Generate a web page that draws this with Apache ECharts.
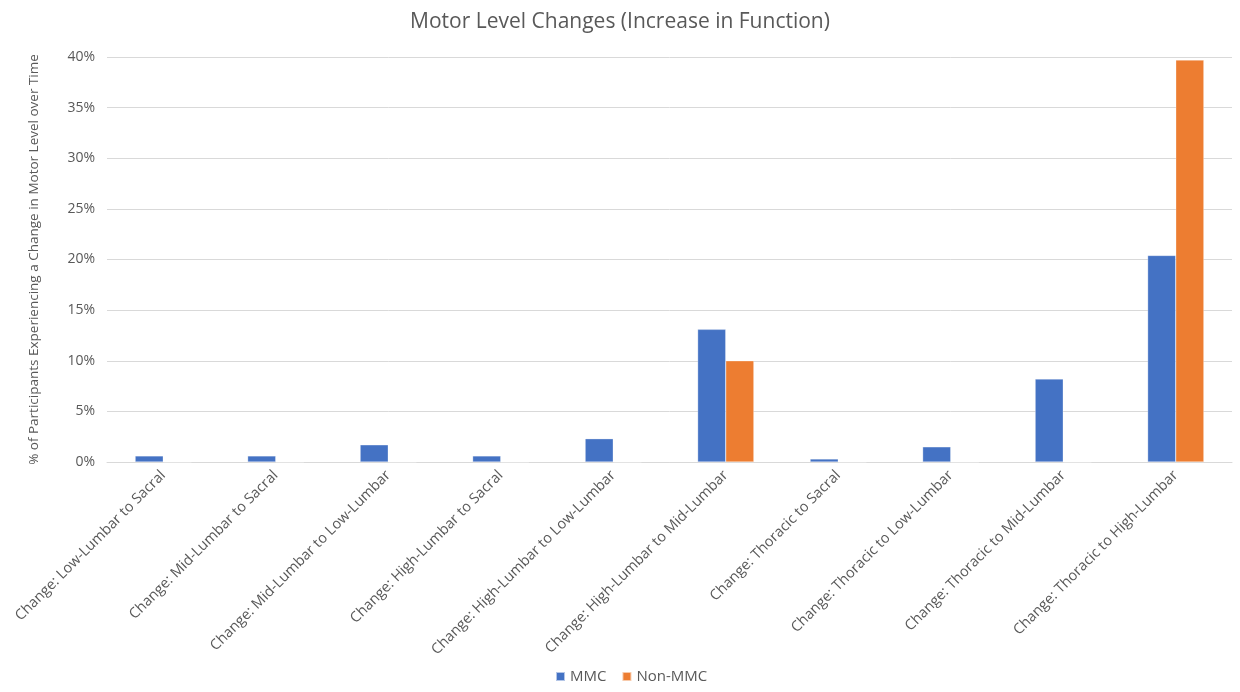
<!DOCTYPE html>
<html>
<head>
<meta charset="utf-8">
<script src="https://cdn.jsdelivr.net/npm/echarts@6/dist/echarts.min.js"></script>
<style>
  html, body { margin: 0; padding: 0; background: #ffffff; }
  #chart { width: 1240px; height: 692px; }
</style>
</head>
<body>
<div id="chart"></div>
<script>
// Motor level transitions (increase in function)
const categories = [
  'Change: Low-Lumbar to Sacral',
  'Change: Mid-Lumbar to Sacral',
  'Change: Mid-Lumbar to Low-Lumbar',
  'Change: High-Lumbar to Sacral',
  'Change: High-Lumbar to Low-Lumbar',
  'Change: High-Lumbar to Mid-Lumbar',
  'Change: Thoracic to Sacral',
  'Change: Thoracic to Low-Lumbar',
  'Change: Thoracic to Mid-Lumbar',
  'Change: Thoracic to High-Lumbar'
];
// percent of participants
const mmcValues = [0.6, 0.6, 1.7, 0.6, 2.3, 13.1, 0.3, 1.5, 8.2, 20.4];
const nonMmcValues = [0, 0, 0, 0, 0, 10.0, 0, 0, 0, 39.7];
const yTicks = { min: 0, max: 40, interval: 5 };

const font = '"Open Sans", "Liberation Sans", sans-serif';
const textGrey = '#595959';

const chart = echarts.init(document.getElementById('chart'), null, { renderer: 'canvas' });
chart.setOption({
  animation: false,
  backgroundColor: '#ffffff',
  title: {
    text: 'Motor Level Changes (Increase in Function)',
    left: 'center',
    top: 7,
    textStyle: { fontFamily: font, fontSize: 21, fontWeight: 'normal', color: textGrey }
  },
  legend: {
    bottom: 3,
    left: 550,
    itemWidth: 9,
    itemHeight: 9,
    itemGap: 15,
    icon: 'rect',
    textStyle: { fontFamily: font, fontSize: 15, color: textGrey },
    data: ['MMC', 'Non-MMC']
  },
  grid: { left: 107, right: 8, top: 57, bottom: 230, containLabel: false },
  xAxis: {
    type: 'category',
    data: categories,
    axisLine: { show: true, lineStyle: { color: '#d9d9d9', width: 1 } },
    axisTick: { show: false },
    axisLabel: {
      rotate: 45,
      interval: 0,
      margin: 11,
      fontFamily: font,
      fontSize: 14.5,
      color: textGrey
    }
  },
  yAxis: {
    type: 'value',
    min: yTicks.min,
    max: yTicks.max,
    interval: yTicks.interval,
    name: '% of Participants Experiencing a Change in Motor Level over Time',
    nameLocation: 'middle',
    nameGap: 66,
    nameTextStyle: { fontFamily: font, fontSize: 13.5, color: textGrey },
    axisLine: { show: false },
    axisTick: { show: false },
    splitLine: { lineStyle: { color: '#d9d9d9', width: 1 } },
    axisLabel: {
      formatter: v => v + '%',
      margin: 12,
      fontFamily: font,
      fontSize: 14,
      color: textGrey
    }
  },
  series: [
    {
      name: 'MMC',
      type: 'bar',
      data: mmcValues,
      barGap: '0%',
      barCategoryGap: '50%',
      itemStyle: { color: '#4472c4', borderColor: 'rgba(255,255,255,0.6)', borderWidth: 0.5 }
    },
    {
      name: 'Non-MMC',
      type: 'bar',
      data: nonMmcValues,
      barGap: '0%',
      barCategoryGap: '50%',
      itemStyle: { color: '#ed7d31', borderColor: 'rgba(255,255,255,0.6)', borderWidth: 0.5 }
    }
  ]
});
</script>
</body>
</html>
